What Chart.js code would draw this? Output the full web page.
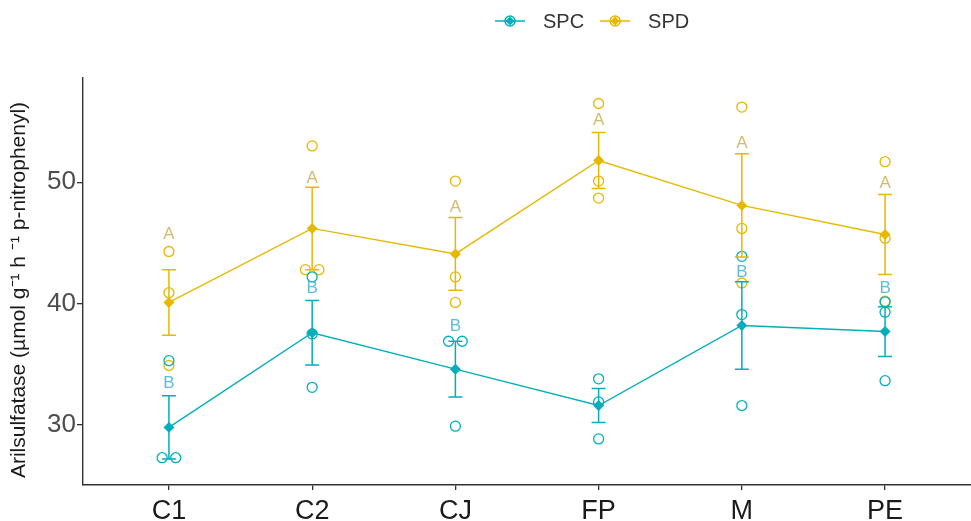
<!DOCTYPE html>
<html><head><meta charset="utf-8">
<script src="https://cdn.jsdelivr.net/npm/chart.js@4"></script>
<style>html,body{margin:0;padding:0;background:#fff;}canvas{display:block}</style>
</head><body>
<canvas id="c" width="971" height="521"></canvas>
<script>
const categories = ['C1','C2','CJ','FP','M','PE'];
const yTicks = [30, 40, 50];
const seriesNames = ['SPC', 'SPD'];
const yTitle = 'Arilsulfatase (µmol g⁻¹ h ⁻¹ p-nitrophenyl)';

const spcMean = [29.8, 37.6, 34.6, 31.6, 38.2, 37.7];
const spcSE   = [2.6, 2.65, 2.3, 1.4, 3.6, 2.05];
const spdMean = [40.1, 46.2, 44.1, 51.8, 48.1, 45.7];
const spdSE   = [2.7, 3.4, 3.0, 2.3, 4.25, 3.3];

const spcPoints = [[27.3,27.3,35.3],[42.2,37.5,33.1],[36.9,36.9,29.9],[33.8,31.9,28.85],[43.9,39.1,31.6],[40.15,39.3,33.65]];
const spdPoints = [[44.3,40.9,34.9],[53.0,42.8,42.8],[50.1,42.2,40.1],[56.5,50.1,48.7],[56.2,46.2,41.7],[51.7,45.4,40.2]];

const spcLetters = ['B','B','B',null,'B','B'];
const spcLetterY = [33.4, 41.3, 38.1, null, 42.6, 41.3];
const spdLetters = ['A','A','A','A','A','A'];
const spdLetterY = [45.7, 50.35, 47.9, 55.1, 53.2, 49.9];

const TEAL = '#00AFBB', GOLD = '#E7B800';
const FONT = '"Liberation Sans", Arial, sans-serif';

function dodge(groups){
  const out = [];
  groups.forEach((vals, i) => {
    const count = {}, used = {};
    vals.forEach(v => count[v] = (count[v]||0) + 1);
    vals.forEach(v => {
      const n = count[v], k = used[v] || 0; used[v] = k + 1;
      const off = n > 1 ? (k - (n-1)/2) * 0.095 : 0;
      out.push({x: i + 1 + off, y: v});
    });
  });
  return out;
}
const meanPts = m => m.map((v,i) => ({x: i+1, y: v}));

const errorBars = {
  id: 'errorBars',
  afterDatasetsDraw(chart){
    const {ctx, scales:{x, y}} = chart;
    [[spcMean, spcSE, TEAL],[spdMean, spdSE, GOLD]].forEach(([m, se, col]) => {
      ctx.save(); ctx.strokeStyle = col; ctx.lineWidth = 1.5;
      m.forEach((v, i) => {
        const px = x.getPixelForValue(i+1);
        const t = y.getPixelForValue(v + se[i]), b = y.getPixelForValue(v - se[i]);
        ctx.beginPath();
        ctx.moveTo(px, t); ctx.lineTo(px, b);
        ctx.moveTo(px-7, t); ctx.lineTo(px+7, t);
        ctx.moveTo(px-7, b); ctx.lineTo(px+7, b);
        ctx.stroke();
      });
      ctx.restore();
    });
  }
};

const letters = {
  id: 'letters',
  afterDatasetsDraw(chart){
    const {ctx, scales:{x, y}} = chart;
    ctx.save();
    ctx.font = '17px ' + FONT; ctx.textAlign = 'center'; ctx.textBaseline = 'middle';
    [[spcLetters, spcLetterY, 'rgba(70,175,215,0.85)'],[spdLetters, spdLetterY, 'rgba(205,180,95,0.9)']].forEach(([L, Y, col]) => {
      ctx.fillStyle = col;
      L.forEach((t, i) => { if (t) ctx.fillText(t, x.getPixelForValue(i+1), y.getPixelForValue(Y[i])); });
    });
    ctx.restore();
  }
};

const decor = {
  id: 'decor',
  afterDraw(chart){
    const ctx = chart.ctx;
    ctx.save();
    ctx.font = '20px ' + FONT; ctx.textBaseline = 'middle'; ctx.textAlign = 'left';
    let x0 = 495; const yc = 21;
    [[seriesNames[0], TEAL],[seriesNames[1], GOLD]].forEach(([name, col]) => {
      ctx.strokeStyle = col; ctx.fillStyle = col; ctx.lineWidth = 1.5;
      ctx.beginPath(); ctx.moveTo(x0, yc); ctx.lineTo(x0+30, yc); ctx.stroke();
      const cx = x0 + 15;
      ctx.beginPath(); ctx.arc(cx, yc, 5, 0, Math.PI*2); ctx.stroke();
      ctx.beginPath(); ctx.moveTo(cx, yc-4.5); ctx.lineTo(cx+4.5, yc); ctx.lineTo(cx, yc+4.5); ctx.lineTo(cx-4.5, yc); ctx.closePath(); ctx.fill();
      ctx.fillStyle = '#333';
      ctx.fillText(name, x0 + 48, yc + 1);
      x0 = x0 + 48 + ctx.measureText(name).width + 16;
    });
    ctx.translate(19, 290); ctx.rotate(-Math.PI/2);
    ctx.font = '21px ' + FONT; ctx.fillStyle = '#1a1a1a'; ctx.textAlign = 'center';
    ctx.fillText(yTitle, 0, 0);
    ctx.restore();
  }
};

new Chart(document.getElementById('c'), {
  type: 'scatter',
  data: {
    datasets: [
      {label: 'SPC mean', type: 'line', data: meanPts(spcMean), borderColor: TEAL, backgroundColor: TEAL, borderWidth: 1.4, pointStyle: 'rectRot', pointRadius: 4.5, tension: 0},
      {label: 'SPD mean', type: 'line', data: meanPts(spdMean), borderColor: GOLD, backgroundColor: GOLD, borderWidth: 1.4, pointStyle: 'rectRot', pointRadius: 4.5, tension: 0},
      {label: 'SPC', data: dodge(spcPoints), borderColor: TEAL, backgroundColor: 'rgba(0,0,0,0)', borderWidth: 1.3, pointRadius: 5, showLine: false},
      {label: 'SPD', data: dodge(spdPoints), borderColor: GOLD, backgroundColor: 'rgba(0,0,0,0)', borderWidth: 1.3, pointRadius: 5, showLine: false}
    ]
  },
  options: {
    responsive: false, animation: false, devicePixelRatio: 1,
    layout: {autoPadding: false, padding: {top: 78, left: 0, right: 0, bottom: 0}},
    plugins: {legend: {display: false}, tooltip: {enabled: false}},
    scales: {
      x: {
        type: 'linear', min: 0.4, max: 6.6,
        afterBuildTicks: s => { s.ticks = categories.map((c,i) => ({value: i+1})); },
        afterFit: s => { s.height = 36; },
        ticks: {callback: v => categories[v-1], color: '#1a1a1a', font: {family: FONT, size: 27}, padding: 5, maxRotation: 0, autoSkip: false},
        grid: {drawOnChartArea: false, drawTicks: true, tickLength: 5, color: '#333', lineWidth: 1.3},
        border: {display: true, color: '#333', width: 1.4}
      },
      y: {
        min: 25.05, max: 58.6,
        afterBuildTicks: s => { s.ticks = yTicks.map(v => ({value: v})); },
        afterFit: s => { s.width = 83; },
        ticks: {color: '#4d4d4d', font: {family: FONT, size: 26}, padding: 1},
        grid: {drawOnChartArea: false, drawTicks: true, tickLength: 6, color: '#333', lineWidth: 1.3},
        border: {display: true, color: '#333', width: 1.4}
      }
    }
  },
  plugins: [errorBars, letters, decor]
});
</script>
</body></html>
